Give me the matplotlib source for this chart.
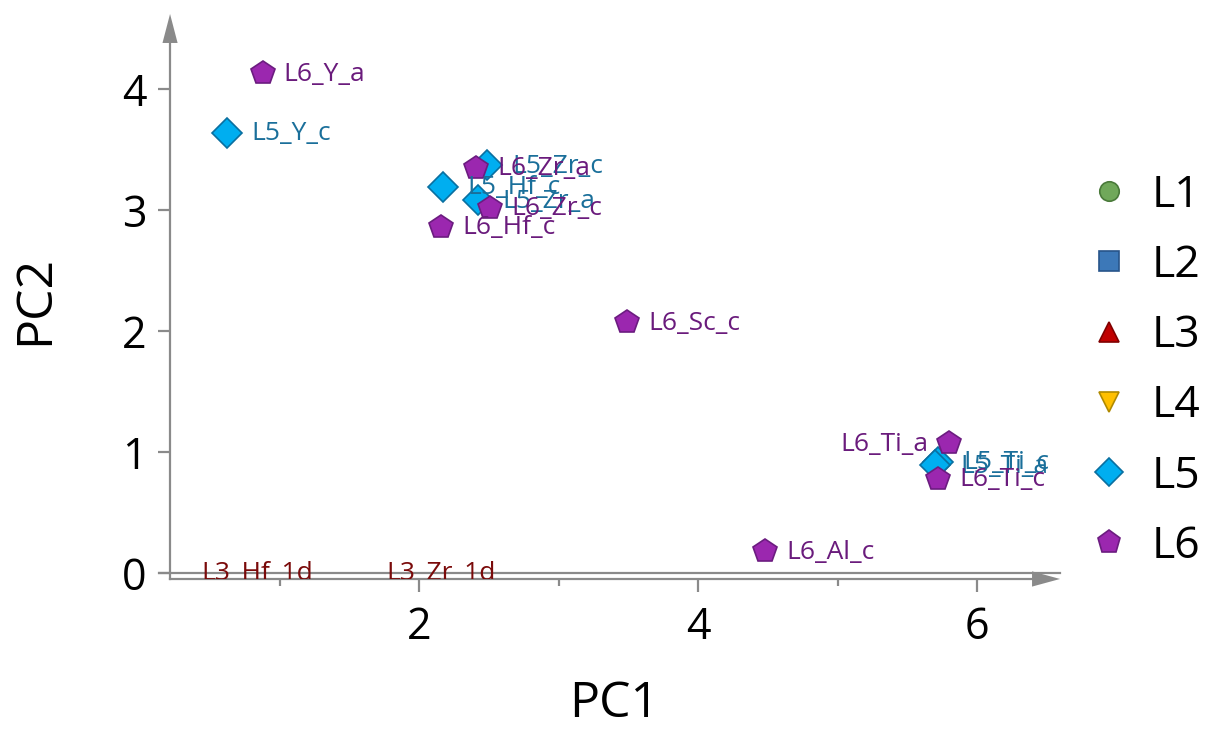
import matplotlib
matplotlib.use("Agg")
import matplotlib.pyplot as plt
from matplotlib.lines import Line2D
from matplotlib.patches import Polygon

plt.rcParams['font.family'] = ['Open Sans', 'DejaVu Sans']

# PCA scores per ligand group
groups = ["L1", "L2", "L3", "L4", "L5", "L6"]
markers = {"L1": "o", "L2": "s", "L3": "^", "L4": "v", "L5": "D", "L6": "p"}
face = {"L1": "#70a85a", "L2": "#3c78b8", "L3": "#c00000",
        "L4": "#ffc000", "L5": "#00aef0", "L6": "#9b27af"}
edge = {"L1": "#4a7a3a", "L2": "#27548a", "L3": "#800000",
        "L4": "#b08a00", "L5": "#0a6fa0", "L6": "#6c1c80"}
text_col = {"L3": "#7a0a0a", "L5": "#1a6f9a", "L6": "#6a1b7c"}

l3_names = ["L3_Hf_1d", "L3_Zr_1d"]
l3_pc1 = [0.28, 1.61]
l3_pc2 = [0.0, 0.0]

l5_names = ["L5_Y_c", "L5_Zr_c", "L5_Hf_c", "L5_Zr_a", "L5_Ti_c", "L5_Ti_a"]
l5_pc1 = [0.62, 2.49, 2.17, 2.42, 5.72, 5.70]
l5_pc2 = [3.64, 3.37, 3.19, 3.08, 0.92, 0.89]

l6_names = ["L6_Y_a", "L6_Zr_a", "L6_Zr_c", "L6_Hf_c", "L6_Sc_c",
            "L6_Ti_a", "L6_Ti_c", "L6_Al_c"]
l6_pc1 = [0.88, 2.41, 2.51, 2.16, 3.49, 5.80, 5.72, 4.48]
l6_pc2 = [4.13, 3.35, 3.02, 2.86, 2.07, 1.07, 0.78, 0.18]

left_labels = {"L6_Ti_a"}

fig = plt.figure(figsize=(12.06, 7.29), dpi=100)
ax = fig.add_axes([0.141, 0.2058, 0.738, 0.775])
ax.set_xlim(0.215, 6.595)
ax.set_ylim(-0.05, 4.62)

for s in ax.spines.values():
    s.set_visible(False)

axis_col = "#8a8a8a"
# axis lines with arrow heads
ax.plot([0, 0.97], [0, 0], transform=ax.transAxes, color=axis_col, lw=1.6, clip_on=False)
ax.plot([0, 0], [0, 0.95], transform=ax.transAxes, color=axis_col, lw=1.6, clip_on=False)
ax.add_patch(Polygon([[0.9685, -0.0135], [1.0, 0], [0.9685, 0.0135]], closed=True,
                     transform=ax.transAxes, color=axis_col, lw=0, clip_on=False))
ax.add_patch(Polygon([[-0.0085, 0.9487], [0, 1.0], [0.0085, 0.9487]], closed=True,
                     transform=ax.transAxes, color=axis_col, lw=0, clip_on=False))
# zero reference line
ax.axhline(0, xmin=-0.012, xmax=1.0, color=axis_col, lw=1.6, clip_on=False)

ax.set_xticks([2, 4, 6])
ax.set_xticks([1, 3, 5], minor=True)
ax.set_yticks([0, 1, 2, 3, 4])
ax.tick_params(axis="both", which="major", length=9, width=1.6, color=axis_col,
               labelsize=31)
ax.tick_params(axis="x", which="major", pad=10)
ax.tick_params(axis="y", which="major", pad=8)
ax.tick_params(axis="x", which="minor", length=5, width=1.6, color=axis_col)
ax.set_xlabel("PC1", fontsize=36)
ax.set_ylabel("PC2", fontsize=36)
ax.xaxis.set_label_coords(0.499, -0.222)
ax.yaxis.set_label_coords(-0.1517, 0.494)
ax.xaxis.label.set_va("center")
ax.yaxis.label.set_va("center")

def draw(group, names, xs, ys, off, show=True):
    if show:
        ax.plot(xs, ys, linestyle="none", marker=markers[group],
                ms=18 if group == "L6" else 15,
                markerfacecolor=face[group], markeredgecolor=edge[group],
                markeredgewidth=1.2, clip_on=False, zorder=3)
    for n, x, y in zip(names, xs, ys):
        left = n in left_labels
        ax.annotate(n, (x, y), xytext=(-off if left else off, -1),
                    textcoords="offset pixels",
                    ha="right" if left else "left", va="center",
                    fontsize=19, color=text_col[group], zorder=4,
                    annotation_clip=False, clip_on=not show)

draw("L3", l3_names, l3_pc1, l3_pc2, 22, show=False)
draw("L5", l5_names, l5_pc1, l5_pc2, 25)
draw("L6", l6_names, l6_pc1, l6_pc2, 21)

handles = [Line2D([], [], linestyle="none", marker=markers[g],
                  ms=17 if g == "L6" else 14,
                  markerfacecolor=face[g], markeredgecolor=edge[g],
                  markeredgewidth=1.2, label=g) for g in groups]
fig.legend(handles=handles, loc="center left", bbox_to_anchor=(0.886, 0.491),
           frameon=False, fontsize=32, handletextpad=0.48, labelspacing=0.58,
           handlelength=1.0, borderaxespad=0)

fig.savefig("out.png", dpi=100)
